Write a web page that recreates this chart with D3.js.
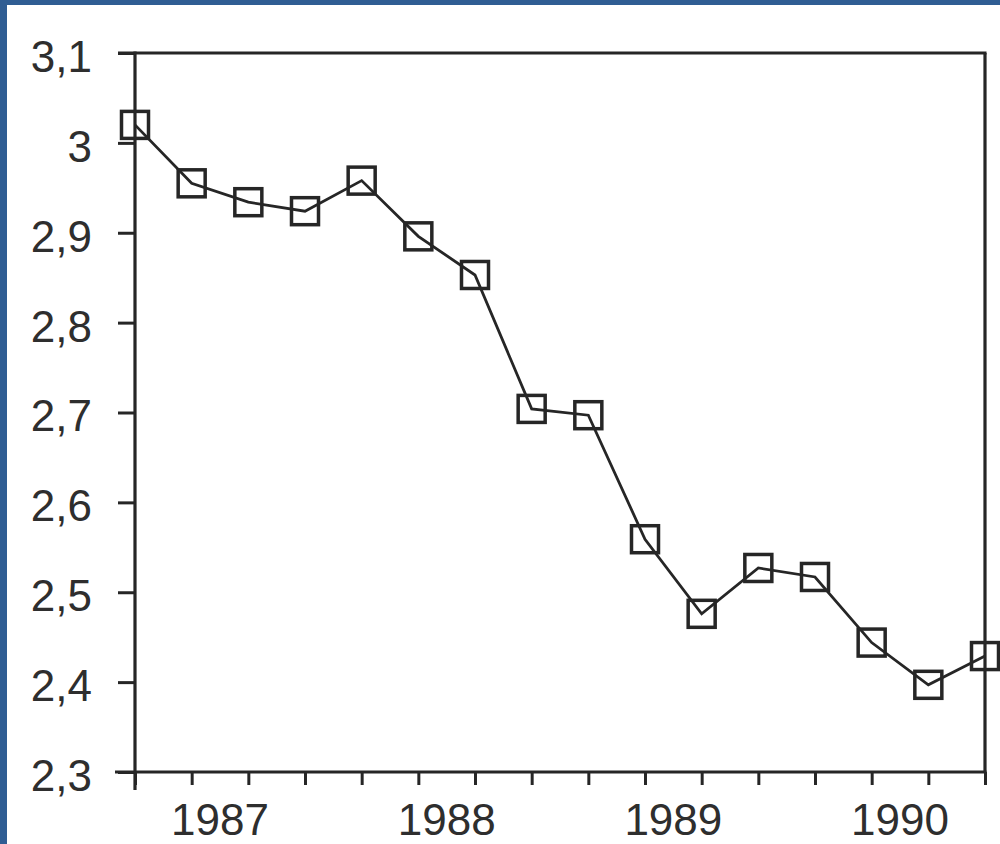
<!DOCTYPE html>
<html>
<head>
<meta charset="utf-8">
<script src="https://cdn.jsdelivr.net/npm/d3@7"></script>
<style>
  html, body { margin: 0; padding: 0; background: #ffffff; overflow: hidden; }
  svg { display: block; }
</style>
</head>
<body>
<svg id="chart" width="1000" height="844"></svg>
<script>
// ---- data ----
const quarters = [
  "1987 Q1", "1987 Q2", "1987 Q3", "1987 Q4",
  "1988 Q1", "1988 Q2", "1988 Q3", "1988 Q4",
  "1989 Q1", "1989 Q2", "1989 Q3", "1989 Q4",
  "1990 Q1", "1990 Q2", "1990 Q3", "1990 Q4"
];
const values = [3.02, 2.955, 2.934, 2.924, 2.958, 2.896, 2.853, 2.704,
                2.697, 2.559, 2.476, 2.527, 2.517, 2.444, 2.397, 2.429];
const yearLabels = ["1987", "1988", "1989", "1990"];
const yTickValues = [2.3, 2.4, 2.5, 2.6, 2.7, 2.8, 2.9, 3.0, 3.1];
const yTickLabels = ["2,3", "2,4", "2,5", "2,6", "2,7", "2,8", "2,9", "3", "3,1"];

(function () {
// ---- layout ----
const svg = d3.select("#chart");
const pLeft = 135, pRight = 985, pTop = 53, pBottom = 772;
const ink = "#262626";
const textInk = "#2e2e2e";
const font = "'Liberation Sans', Arial, Helvetica, sans-serif";
const fontSize = 44;

// background and blue border strips
svg.append("rect").attr("x", 0).attr("y", 0).attr("width", 1000).attr("height", 844).attr("fill", "#ffffff");
svg.append("rect").attr("x", 0).attr("y", 0).attr("width", 7).attr("height", 844).attr("fill", "#2f5d93");
svg.append("rect").attr("x", 0).attr("y", 0).attr("width", 1000).attr("height", 5).attr("fill", "#2f5d93");

const x = d3.scaleLinear().domain([0, quarters.length - 1]).range([pLeft, pRight]);
const y = d3.scaleLinear().domain([2.3, 3.1]).range([pBottom, pTop]);

// frame (top and right)
svg.append("line").attr("x1", pLeft - 17).attr("x2", pRight + 1.5).attr("y1", y(3.1)).attr("y2", y(3.1))
  .attr("stroke", ink).attr("stroke-width", 3.2);
svg.append("line").attr("x1", pRight).attr("x2", pRight).attr("y1", y(3.1)).attr("y2", y(2.3))
  .attr("stroke", ink).attr("stroke-width", 3.2);

// y axis
const yAxis = d3.axisLeft(y)
  .tickValues(yTickValues)
  .tickFormat((d, i) => yTickLabels[i])
  .tickSizeInner(17)
  .tickSizeOuter(0)
  .tickPadding(26);
const gy = svg.append("g").attr("transform", `translate(${pLeft},0)`).call(yAxis);
gy.select(".domain").remove();
gy.selectAll(".tick line").attr("stroke", ink).attr("stroke-width", 3);
gy.selectAll(".tick text")
  .attr("fill", textInk)
  .attr("font-family", font)
  .attr("font-size", fontSize)
  .attr("dy", "0.42em");
svg.append("line").attr("x1", pLeft).attr("x2", pLeft).attr("y1", y(3.1) - 1.5).attr("y2", pBottom + 18)
  .attr("stroke", ink).attr("stroke-width", 3.2);

// x axis (quarter ticks)
const xAxis = d3.axisBottom(x)
  .tickValues(d3.range(quarters.length))
  .tickFormat("")
  .tickSizeInner(13)
  .tickSizeOuter(0);
const gx = svg.append("g").attr("transform", `translate(0,${pBottom})`).call(xAxis);
gx.select(".domain").remove();
gx.selectAll(".tick line").attr("stroke", ink).attr("stroke-width", 3);
svg.append("line").attr("x1", pLeft - 20).attr("x2", pRight + 1.5).attr("y1", pBottom).attr("y2", pBottom)
  .attr("stroke", ink).attr("stroke-width", 3.2);

// year labels centred on each year's four quarters
svg.append("g").selectAll("text").data(yearLabels).join("text")
  .attr("x", (d, i) => x(i * 4 + 1.5))
  .attr("y", 835)
  .attr("text-anchor", "middle")
  .attr("fill", textInk)
  .attr("font-family", font)
  .attr("font-size", fontSize)
  .text(d => d);

// line
const line = d3.line().x((d, i) => x(i)).y(d => y(d));
svg.append("path").datum(values)
  .attr("d", line)
  .attr("fill", "none")
  .attr("stroke", ink)
  .attr("stroke-width", 2.8);

// square markers
const s = 27;
svg.append("g").selectAll("rect").data(values).join("rect")
  .attr("x", (d, i) => x(i) - s / 2)
  .attr("y", d => y(d) - s / 2)
  .attr("width", s)
  .attr("height", s)
  .attr("fill", "none")
  .attr("stroke", ink)
  .attr("stroke-width", 3.5);
})();
</script>
</body>
</html>
